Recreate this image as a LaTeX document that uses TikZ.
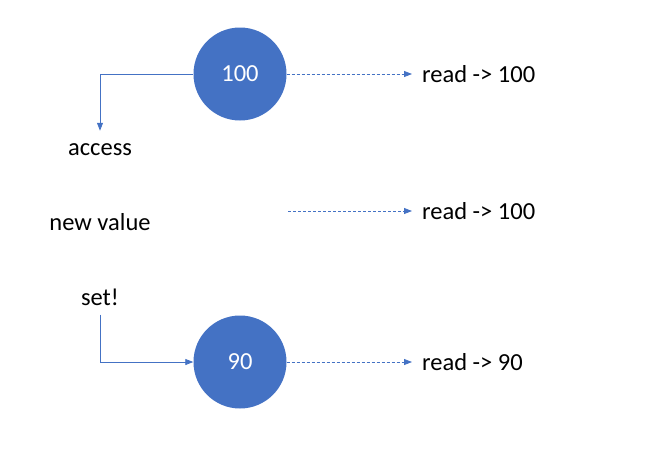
\documentclass[tikz,border=0pt]{standalone}
\usepackage{fontspec}
\setmainfont{Carlito}
\usetikzlibrary{arrows.meta}
\definecolor{officeblue}{HTML}{4472C4}
\tikzset{%
  >={Triangle[width=6pt,length=8pt]},
  % Specifications for style of nodes:
     value/.style = {circle, fill=officeblue, minimum size=93pt,
                     inner sep=0pt, text=white},
     label/.style = {inner sep=2pt, text=black},
   readout/.style = {label, anchor=west},
  % Specifications for style of connectors:
      flow/.style = {draw=officeblue, line width=0.8pt, ->},
      peek/.style = {flow, dash pattern=on 3pt off 2pt, shorten >=8pt},
}

\begin{document}
\begin{tikzpicture}[x=1pt, y=-1pt,
    every node/.style={font=\fontsize{24.5}{29}\selectfont}]
  \useasboundingbox (0,0) rectangle (664,451);
  % Specification of nodes (position, etc.)
  \node (old)      [value]   at (240,74)  {100};
  \node (new)      [value]   at (240,362) {90};
  \node (access)   [label]   at (100,150) {access};
  \node (newvalue) [label]   at (100,222) {new value};
  \node (set)      [label]   at (100,297) {set!};
  \node (readA)    [readout] at (420,74)  {read -> 100};
  \node (readB)    [readout] at (420,211) {read -> 100};
  \node (readC)    [readout] at (420,362) {read -> 90};
  \coordinate (gap) at (288,211);

  \draw[flow, shorten >=11pt]  (old.west) -| (access.north);
  \draw[flow, shorten <=7pt]   (set.south) |- (new.west);
  \draw[peek]                  (old.east) -- (readA.west);
  \draw[peek]                       (gap) -- (readB.west);
  \draw[peek]                  (new.east) -- (readC.west);
\end{tikzpicture}
\end{document}
